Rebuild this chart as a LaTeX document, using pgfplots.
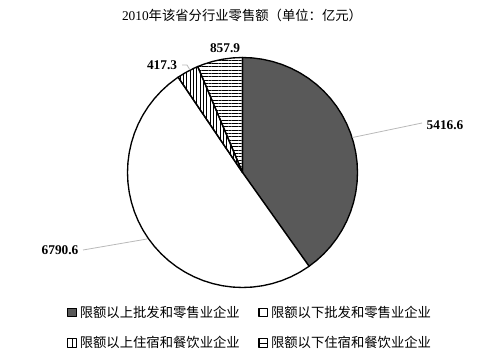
\documentclass[border=0pt]{standalone}
\usepackage{pgfplots}
\pgfplotsset{compat=1.18}
\usepackage{fontspec}
\setmainfont{Liberation Serif}
\newfontfamily\cjk{Noto Sans CJK SC}
\usetikzlibrary{patterns.meta}
\definecolor{darkslice}{RGB}{89,89,89}
\definecolor{leader}{RGB}{185,185,185}
\begin{document}
\begin{tikzpicture}
\begin{axis}[
  x=0.75pt, y=0.75pt,
  xmin=-242.5, xmax=235.5, ymin=-187.5, ymax=172.5,
  hide axis, clip=false,
  legend columns=2,
  legend cell align=left,
  legend style={draw=none, fill=none, font=\fontsize{10pt}{12pt}\cjk,
    at={(0.524,0.089)}, anchor=center, row sep=9pt,
    /tikz/every even column/.append style={column sep=12pt}},
]
% 5416.6 dark slice: 90 -> -54.631
\addplot[data cs=polar, fill=darkslice, draw=black, line width=1pt, line join=round,
  legend image code/.code={\draw[line width=0.8pt, fill=darkslice] (0pt,-3.2pt) rectangle (6.6pt,3.4pt);}]
coordinates {(0,0) (90,115) (85,115) (80,115) (75,115) (70,115) (65,115) (60,115) (55,115) (50,115) (45,115) (40,115) (35,115) (30,115) (25,115) (20,115) (15,115) (10,115) (5,115) (0,115) (-5,115) (-10,115) (-15,115) (-20,115) (-25,115) (-30,115) (-35,115) (-40,115) (-45,115) (-50,115) (-54.631,115) (0,0)} -- cycle;
\addlegendentry{限额以上批发和零售业企业}
% 6790.6 white slice: 124.05 -> 305.369
\addplot[data cs=polar, fill=white, draw=black, line width=1pt, line join=round,
  legend image code/.code={\draw[line width=0.8pt, fill=white] (0pt,-3.2pt) rectangle (6.6pt,3.4pt);}]
coordinates {(0,0) (124.05,115) (125,115) (130,115) (135,115) (140,115) (145,115) (150,115) (155,115) (160,115) (165,115) (170,115) (175,115) (180,115) (185,115) (190,115) (195,115) (200,115) (205,115) (210,115) (215,115) (220,115) (225,115) (230,115) (235,115) (240,115) (245,115) (250,115) (255,115) (260,115) (265,115) (270,115) (275,115) (280,115) (285,115) (290,115) (295,115) (300,115) (305,115) (305.369,115) (0,0)} -- cycle;
\addlegendentry{限额以下批发和零售业企业}
% 417.3 vertical stripes: 112.907 -> 124.05
\addplot[data cs=polar, fill=white, pattern={Lines[angle=90,distance=2.5pt,line width=0.5pt]}, draw=black, line width=1pt, line join=round,
  legend image code/.code={\draw[line width=0.8pt, fill=white] (0pt,-3.2pt) rectangle (6.6pt,3.4pt); \draw[line width=0.7pt] (3.3pt,-3.2pt) -- (3.3pt,3.4pt);}]
coordinates {(0,0) (112.907,115) (115,115) (120,115) (124.05,115) (0,0)} -- cycle;
\addlegendentry{限额以上住宿和餐饮业企业}
% 857.9 horizontal stripes: 90 -> 112.907
\addplot[data cs=polar, fill=white, pattern={Lines[angle=0,distance=2.5pt,line width=0.5pt]}, draw=black, line width=1pt, line join=round,
  legend image code/.code={\draw[line width=0.8pt, fill=white] (0pt,-3.2pt) rectangle (6.6pt,3.4pt); \draw[line width=0.7pt] (0pt,0.1pt) -- (6.6pt,0.1pt);}]
coordinates {(0,0) (90,115) (95,115) (100,115) (105,115) (110,115) (112.907,115) (0,0)} -- cycle;
\addlegendentry{限额以下住宿和餐饮业企业}
% leader lines
\addplot[leader, line width=0.6pt, forget plot] coordinates {(110,35) (179.5,49.5)};
\addplot[leader, line width=0.6pt, forget plot] coordinates {(-159.5,-77.5) (-95.5,-66.5)};
\addplot[leader, line width=0.6pt, forget plot] coordinates {(-60.5,107.5) (-55.5,107.5) (-52.5,102.5)};
% labels
\node[font=\fontsize{10pt}{12pt}\selectfont] at (axis cs:-0.5,157.5) {2010{\cjk 年该省分行业零售额（单位：亿元）}};
\node[font=\fontsize{10pt}{12pt}\selectfont\bfseries] at (axis cs:-17.5,124.5) {857.9};
\node[font=\fontsize{10pt}{12pt}\selectfont\bfseries] at (axis cs:-80.5,107.5) {417.3};
\node[font=\fontsize{10pt}{12pt}\selectfont\bfseries] at (axis cs:202.5,47.5) {5416.6};
\node[font=\fontsize{10pt}{12pt}\selectfont\bfseries] at (axis cs:-182.5,-77.5) {6790.6};
\end{axis}
\path (current axis.south west) rectangle (current axis.north east);
\end{tikzpicture}
\end{document}
